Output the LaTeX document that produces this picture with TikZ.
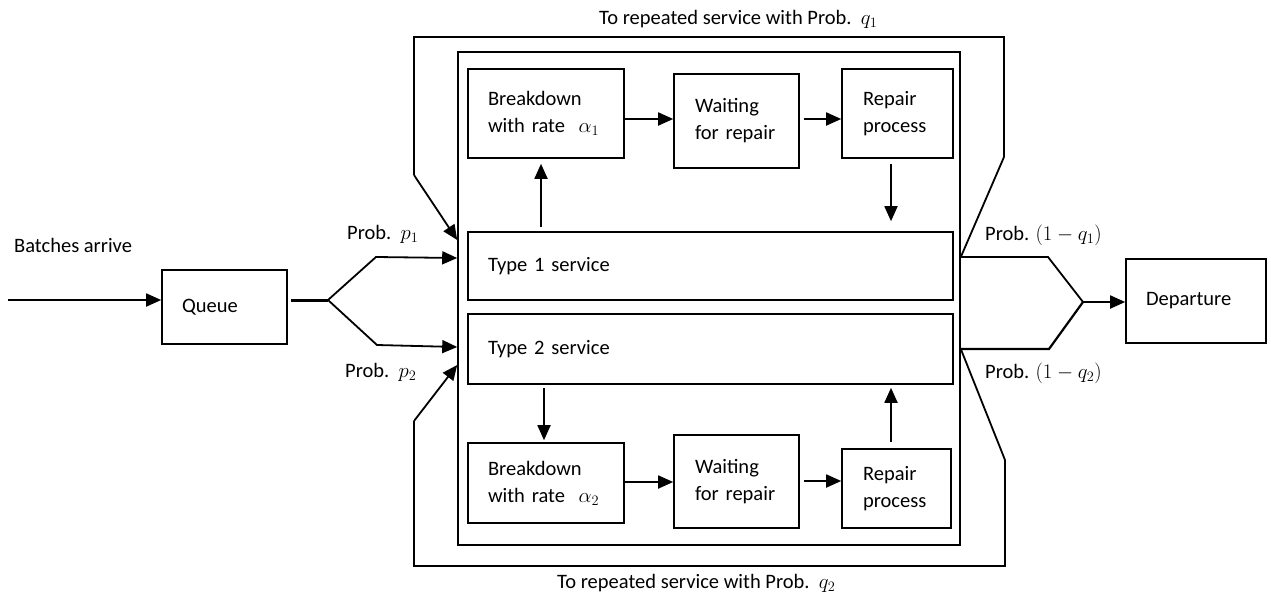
\documentclass[tikz,border=0pt]{standalone}
\usepackage{fontspec}
\setmainfont{Carlito}
\usetikzlibrary{arrows.meta}
\begin{document}
\begin{tikzpicture}[x=1pt,y=-1pt,
  every node/.style={font=\fontsize{20.5}{27}\selectfont},
  box/.style={draw, line width=1.6pt, inner xsep=20pt, inner ysep=0pt, align=left},
  boxw/.style={box, inner xsep=21pt},
  link/.style={line width=1.8pt, -{Triangle[length=15pt,width=13pt]}},
  wire/.style={line width=1.8pt},
  frame/.style={line width=2.8pt, line join=miter},
  lbl/.style={inner sep=0pt, anchor=base west}]
\useasboundingbox (0,0) rectangle (1271,597);

% queue and departure
\node[box, text width=85pt, minimum height=74pt] (queue) at (224.5,307) {Queue};
\node[box, text width=100pt, minimum height=84pt] (dep) at (1196,301) {Departure};

% service station
\node[draw, line width=1.6pt, minimum width=502pt, minimum height=493pt, inner sep=0pt] (svc) at (709,298.5) {};

\node[box, text width=116pt, minimum height=89pt] (bd1) at (546,113.5) {Breakdown\\with rate\ \ $\alpha_1$};
\node[boxw, text width=83pt, minimum height=94pt] (wt1) at (736.5,121) {Waiting\\for repair};
\node[boxw, text width=69pt, minimum height=89pt] (rp1) at (897.5,113.5) {Repair\\process};
\node[box, text width=445pt, minimum height=68pt] (t1) at (710.5,266) {Type 1 service};
\node[box, text width=445pt, minimum height=70pt] (t2) at (710.5,349) {Type 2 service};
\node[box, text width=116pt, minimum height=80pt] (bd2) at (546,483) {Breakdown\\with rate\ \ $\alpha_2$};
\node[boxw, text width=83pt, minimum height=93pt] (wt2) at (736.5,481.5) {Waiting\\for repair};
\node[boxw, text width=67pt, minimum height=79pt] (rp2) at (896.5,488.5) {Repair\\process};

% breakdown / repair cycles
\draw[link] (bd1.east |- 0,119) -- (wt1.west |- 0,119);
\draw[link, shorten <=4pt] (wt1.east |- 0,119) -- (rp1.west |- 0,119);
\draw[link, shorten <=4pt, shorten >=5pt] (t1.north -| 541,0) -- (bd1.south -| 541,0);
\draw[link, shorten <=5pt, shorten >=10pt] (rp1.south -| 891,0) -- (t1.north -| 891,0);
\draw[link, shorten <=3pt, shorten >=2pt] (t2.south -| 544,0) -- (bd2.north -| 544,0);
\draw[link, shorten <=6pt, shorten >=3pt] (rp2.north -| 891,0) -- (t2.south -| 891,0);
\draw[link] (bd2.east |- 0,482) -- (wt2.west |- 0,482);
\draw[link, shorten <=4pt] (wt2.east |- 0,481) -- (rp2.west |- 0,481);

% arrivals and routing into the station
\coordinate (src) at (8,300);
\coordinate (split) at (328,300);
\draw[link] (src) -- (queue.west |- src);
\draw[line width=3pt] ([xshift=3pt]queue.east |- split) -- (split);
\draw[link] (split) -- (376,257) -- (svc.west |- 0,258);
\draw[link] (split) -- (377,345) -- (svc.west |- 0,347);

% outputs of the two services
\coordinate (o1) at (svc.east |- 0,257);
\coordinate (o2) at (svc.east |- 0,349);
\coordinate (merge) at (1083,302);
\draw[wire] (o1) -- (1048,257) -- (merge);
\draw[line width=2.2pt] (o2) -- (1049,349) -- (merge);
\draw[link] (merge) -- (dep.west |- merge);

% repeated service loops
\coordinate (fa) at (1004,157);
\coordinate (fd) at (414,175);
\draw[wire] (o1) -- (fa);
\draw[frame] (fa) -- (1004,37) -- (414,37) -- (fd);
\draw[link] (fd) -- (svc.west |- 0,240);

\coordinate (ga) at (1005,460);
\coordinate (gd) at (414,421);
\draw[wire] (o2) -- (ga);
\draw[frame] (ga) -- (1005,566) -- (414,566) -- (gd);
\draw[link] (gd) -- (svc.west |- 0,365);

% labels
\node[lbl] (batch) at (14,252) {Batches arrive};
\node[lbl] (pp1) at (347,239) {Prob.\ \ $p_1$};
\node[lbl] (pp2) at (345,377) {Prob.\ \ $p_2$};
\node[lbl] (pq1) at (985,240) {Prob. $(1-q_1)$};
\node[lbl] (pq2) at (985,378) {Prob. $(1-q_2)$};
\node[lbl] (rq1) at (599,24) {To repeated service with Prob.\ \ $q_1$};
\node[lbl] (rq2) at (557,588) {To repeated service with Prob.\ \ $q_2$};
\end{tikzpicture}
\end{document}
